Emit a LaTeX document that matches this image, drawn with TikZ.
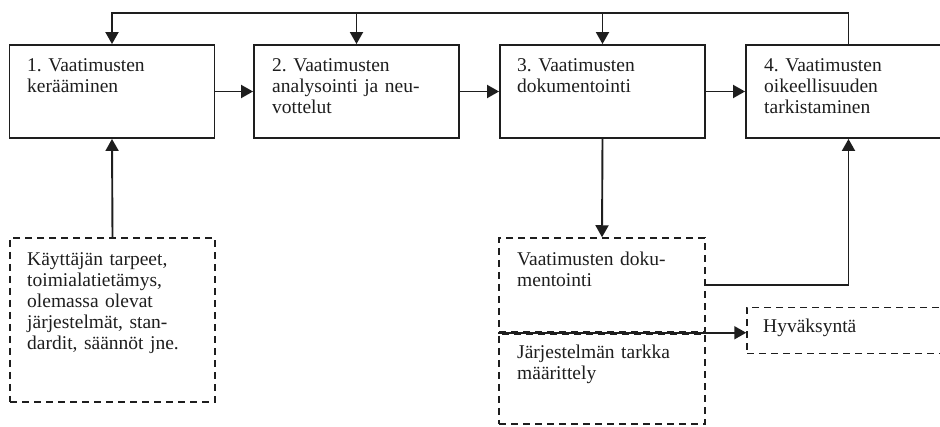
\documentclass[tikz,border=0pt]{standalone}
\usepackage{fontspec}
\setmainfont{Liberation Serif}
\usetikzlibrary{arrows.meta}
\definecolor{ink}{HTML}{1E1E1E}
\begin{document}
\frenchspacing
\begin{tikzpicture}[x=1pt,y=-1pt,
  stage/.style={draw=ink, line width=1.9pt, minimum width=205pt, minimum height=93pt, inner sep=0pt},
  note/.style={draw=ink, line width=1.5pt, dash pattern=on 7pt off 5pt, inner sep=0pt},
  lbl/.style={anchor=base west, inner sep=0pt, text width=200pt, align=left,
              font=\fontsize{19.5}{20.9}\selectfont, text=ink},
  flow/.style={draw=ink, line width=1.9pt, -{Triangle[length=12pt,width=13pt]}},
]
\useasboundingbox (0,0) rectangle (940,427);
\clip (0,0) rectangle (940,427);

% process stages
\node[stage] (b1) at (112,91.5) {};
\node[stage] (b2) at (356.5,91.5) {};
\node[stage] (b3) at (602.5,91.5) {};
\node[stage] (b4) at (848.5,91.5) {};

% inputs and outputs
\node[note, minimum width=205pt, minimum height=164pt] (n1) at (112.5,320) {};
\node[note, minimum width=206pt, minimum height=94pt] (d1) at (602,285) {};
\node[note, minimum width=206pt, minimum height=90pt] (d2) at (602,379) {};
\node[note, minimum width=205pt, minimum height=46pt] (h) at (849.5,330.5) {};

% texts
\node[lbl] (t1) at (27,72) {1. Vaatimusten\\kerääminen};
\node[lbl] (t2) at (272,72) {2. Vaatimusten\\analysointi ja neu-\\vottelut};
\node[lbl] (t3) at (517,72) {3. Vaatimusten\\dokumentointi};
\node[lbl] (t4) at (764,72) {4. Vaatimusten\\oikeellisuuden\\tarkistaminen};
\node[lbl] (t5) at (27,266) {Käyttäjän tarpeet,\\toimialatietämys,\\olemassa olevat\\järjestelmät, stan-\\dardit, säännöt jne.};
\node[lbl] (t6) at (517,266) {Vaatimusten doku-\\mentointi};
\node[lbl] (t7) at (517,359) {Järjestelmän tarkka\\määrittely};
\node[lbl] (t8) at (763,333) {Hyväksyntä};

% connectors
\coordinate (fb) at (0,13);
\draw[flow] (b4.north) |- (fb -| b1.north) -- (b1.north);
\draw[flow] (fb -| b2.north) -- (b2.north);
\draw[flow] (fb -| b3.north) -- (b3.north);
\draw[flow] (b1.east) -- (b2.west);
\draw[flow] (b2.east) -- (b3.west);
\draw[flow] (b3.east) -- (b4.west);
\draw[flow] (n1.north) -- (b1.south);
\draw[flow] (b3.south) -- (d1.north);
\draw[flow] (d1.east) -| (b4.south);
\draw[flow] (d1.south west) -- (d1.south west -| h.west);
\end{tikzpicture}
\end{document}
